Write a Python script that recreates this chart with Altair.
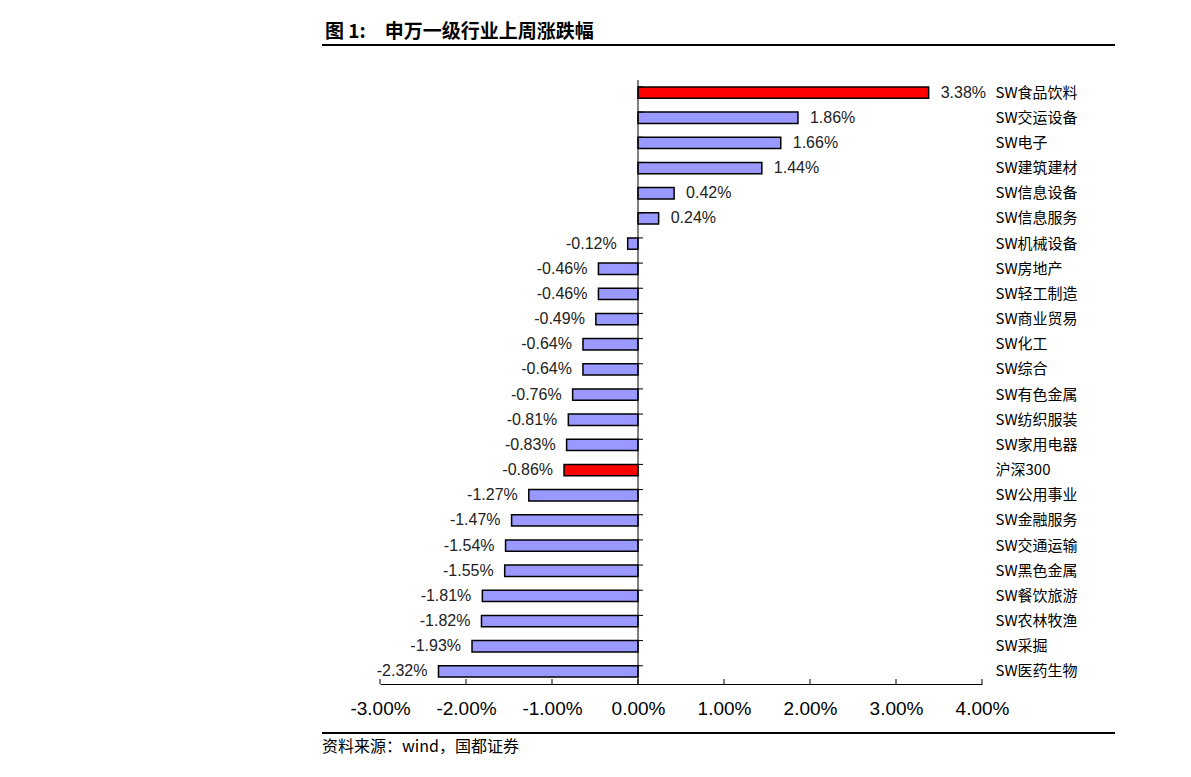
import altair as alt
import pandas as pd

categories = ["SW食品饮料", "SW交运设备", "SW电子", "SW建筑建材", "SW信息设备", "SW信息服务",
              "SW机械设备", "SW房地产", "SW轻工制造", "SW商业贸易", "SW化工", "SW综合",
              "SW有色金属", "SW纺织服装", "SW家用电器", "沪深300", "SW公用事业", "SW金融服务",
              "SW交通运输", "SW黑色金属", "SW餐饮旅游", "SW农林牧渔", "SW采掘", "SW医药生物"]
values = [3.38, 1.86, 1.66, 1.44, 0.42, 0.24, -0.12, -0.46, -0.46, -0.49, -0.64, -0.64,
          -0.76, -0.81, -0.83, -0.86, -1.27, -1.47, -1.54, -1.55, -1.81, -1.82, -1.93, -2.32]
highlight = ["SW食品饮料", "沪深300"]
tick_values = [-3, -2, -1, 0, 1, 2, 3, 4]

title_text = "图 1:\u3000申万一级行业上周涨跌幅"
source_text = "资料来源：wind，国都证券"

df = pd.DataFrame({"cat": categories, "val": values})
df["kind"] = ["hl" if c in highlight else "base" for c in categories]
ticks_df = pd.DataFrame({"t": tick_values})

W, H = 602, 604
NUM_FONT = "Liberation Sans"
CJK_FONT = "Noto Sans CJK SC"
FMT = "replace(format({v}, '.2f'), '\u2212', '-') + '%'"

yscale = alt.Scale(domain=categories, paddingInner=0.55, paddingOuter=0.275)
xscale = alt.Scale(domain=[-3, 4], nice=False)

base = alt.Chart(df)

bars = base.mark_bar(stroke="black", strokeWidth=1.5).encode(
    y=alt.Y("cat:N", sort=categories, scale=yscale,
            axis=alt.Axis(orient="right", title=None, domain=False, ticks=False,
                          labelPadding=13, labelFont=CJK_FONT, labelFontSize=15,
                          labelColor="black", labelLimit=200)),
    x=alt.X("val:Q", scale=xscale,
            axis=alt.Axis(values=tick_values, title=None, ticks=False, grid=False,
                          domain=True, domainColor="black", domainWidth=1,
                          labelExpr=FMT.format(v="datum.value"),
                          labelOverlap=False, labelBound=False, labelFlush=False,
                          labelFont=NUM_FONT, labelFontSize=19, labelColor="black",
                          labelPadding=15)),
    x2=alt.datum(0),
    color=alt.Color("kind:N", scale=alt.Scale(domain=["hl", "base"], range=["#FF0000", "#9999FF"]),
                    legend=None),
)

pos_labels = base.transform_filter("datum.val >= 0").transform_calculate(
    lab=FMT.format(v="datum.val")
).mark_text(align="left", baseline="middle", dx=12, font=NUM_FONT, fontSize=16, color="#222222").encode(
    y=alt.Y("cat:N", sort=categories, scale=yscale),
    x=alt.X("val:Q", scale=xscale),
    text="lab:N",
)

neg_labels = base.transform_filter("datum.val < 0").transform_calculate(
    lab=FMT.format(v="datum.val")
).mark_text(align="right", baseline="middle", dx=-11, font=NUM_FONT, fontSize=16, color="#222222").encode(
    y=alt.Y("cat:N", sort=categories, scale=yscale),
    x=alt.X("val:Q", scale=xscale),
    text="lab:N",
)

zero_line = alt.Chart(ticks_df).transform_filter("datum.t == 0").mark_rule(color="black", strokeWidth=1).encode(
    x=alt.X("t:Q", scale=xscale)
)

y_ticks = base.mark_rule(color="black", strokeWidth=1, x2Offset=5).encode(
    y=alt.Y("cat:N", sort=categories, scale=yscale, bandPosition=0),
    x=alt.datum(0),
    x2=alt.datum(0),
)

x_ticks = alt.Chart(ticks_df).mark_rule(color="black", strokeWidth=1).encode(
    x=alt.X("t:Q", scale=xscale),
    y=alt.value(H),
    y2=alt.value(H - 5),
)

title_mark = alt.Chart(pd.DataFrame({"t": [title_text]})).mark_text(
    align="left", baseline="alphabetic", font=CJK_FONT, fontSize=19, fontWeight="bold", color="black"
).encode(x=alt.value(-55), y=alt.value(-42), text="t:N")

title_rule = alt.Chart(pd.DataFrame({"t": [0]})).mark_rule(color="black", strokeWidth=2).encode(
    x=alt.value(-58), x2=alt.value(735), y=alt.value(-35)
)

footer_rule = alt.Chart(pd.DataFrame({"t": [0]})).mark_rule(color="black", strokeWidth=2).encode(
    x=alt.value(-58), x2=alt.value(735), y=alt.value(653)
)

footer_mark = alt.Chart(pd.DataFrame({"t": [source_text]})).mark_text(
    align="left", baseline="middle", font=CJK_FONT, fontSize=16, color="black"
).encode(x=alt.value(-58), y=alt.value(667), text="t:N")

chart = alt.layer(
    bars, pos_labels, neg_labels, zero_line, y_ticks, x_ticks,
    title_mark, title_rule, footer_rule, footer_mark
).properties(
    width=W, height=H,
    autosize=alt.AutoSizeParams(type="none"),
    padding={"left": 380, "top": 80, "right": 209, "bottom": 93},
    background="white",
).configure_view(stroke=None)

chart.save("out.html", embed_options={"renderer": "svg", "actions": False})
